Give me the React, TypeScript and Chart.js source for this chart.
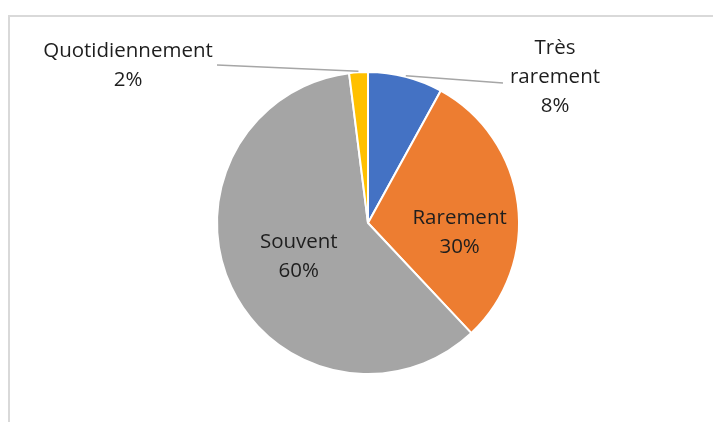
import React, { useEffect, useRef } from "react";
import { Chart, registerables } from "chart.js";

Chart.register(...registerables);

const categories = ["Très rarement", "Rarement", "Souvent", "Quotidiennement"];
const values = [8, 30, 60, 2];
const labelLines = [["Très", "rarement", "8%"], ["Rarement", "30%"], ["Souvent", "60%"], ["Quotidiennement", "2%"]];

const colors = ["#4472C4", "#ED7D31", "#A5A5A5", "#FFC000"];
const FONT = "20.5px 'Open Sans', 'Noto Sans', sans-serif";
const LINE_H = 29;

// label placement styles: inside -> polar (angle deg from top, radius fraction); outside -> block offset & leader end offset
const placement: any[] = [
  { outside: true, dx: 187, dy: -146, ex: -52, ey: 6 },
  { outside: false, angle: 96, frac: 0.61 },
  { outside: false, angle: 244, frac: 0.51 },
  { outside: true, dx: -240, dy: -157, ex: 89, ey: -1 },
];

const labelPlugin = {
  id: "labelPlugin",
  afterDraw(chart: any) {
    const ctx = chart.ctx;
    const meta = chart.getDatasetMeta(0);
    ctx.save();
    // frame
    ctx.strokeStyle = "#D9D9D9";
    ctx.lineWidth = 2;
    ctx.beginPath();
    ctx.moveTo(9, 440);
    ctx.lineTo(9, 16);
    ctx.lineTo(720, 16);
    ctx.stroke();

    ctx.font = FONT;
    ctx.fillStyle = "#1E1E1E";
    ctx.textAlign = "center";
    ctx.textBaseline = "middle";
    meta.data.forEach((arc: any, i: number) => {
      const p = placement[i];
      const { x, y, startAngle, endAngle, outerRadius } = arc.getProps(["x", "y", "startAngle", "endAngle", "outerRadius"], true);
      const lines = labelLines[i];
      let cx: number, cy: number;
      if (p.outside) {
        const mid = (startAngle + endAngle) / 2;
        const sx = x + Math.cos(mid) * (outerRadius + 1);
        const sy = y + Math.sin(mid) * (outerRadius + 1);
        cx = x + p.dx;
        cy = y + p.dy;
        ctx.strokeStyle = "#A6A6A6";
        ctx.lineWidth = 1.5;
        ctx.beginPath();
        ctx.moveTo(sx, sy);
        ctx.lineTo(cx + p.ex, cy + p.ey);
        ctx.stroke();
      } else {
        const a = (p.angle - 90) * Math.PI / 180;
        cx = x + Math.cos(a) * outerRadius * p.frac;
        cy = y + Math.sin(a) * outerRadius * p.frac;
      }
      const top = cy - ((lines.length - 1) * LINE_H) / 2;
      lines.forEach((t: string, k: number) => ctx.fillText(t, cx, top + k * LINE_H));
    });
    ctx.restore();
  },
};

export default function App() {
  const ref = useRef<HTMLCanvasElement>(null);
  useEffect(() => {
    if (!ref.current) return;
    const chart = new Chart(ref.current, {
      type: "pie",
      data: {
        labels: categories,
        datasets: [{ data: values, backgroundColor: colors, borderColor: "#FFFFFF", borderWidth: 2 }],
      },
      options: {
        responsive: false,
        animation: false,
        layout: { padding: { left: 216, right: 193, top: 71, bottom: 47 } },
        plugins: { legend: { display: false }, tooltip: { enabled: false } },
      },
      plugins: [labelPlugin],
    });
    return () => chart.destroy();
  }, []);
  return (
    <div style={{ position: "fixed", left: 0, top: 0, width: 713, height: 422, background: "#fff" }}>
      <canvas ref={ref} width={713} height={422} style={{ width: 713, height: 422 }} />
    </div>
  );
}
